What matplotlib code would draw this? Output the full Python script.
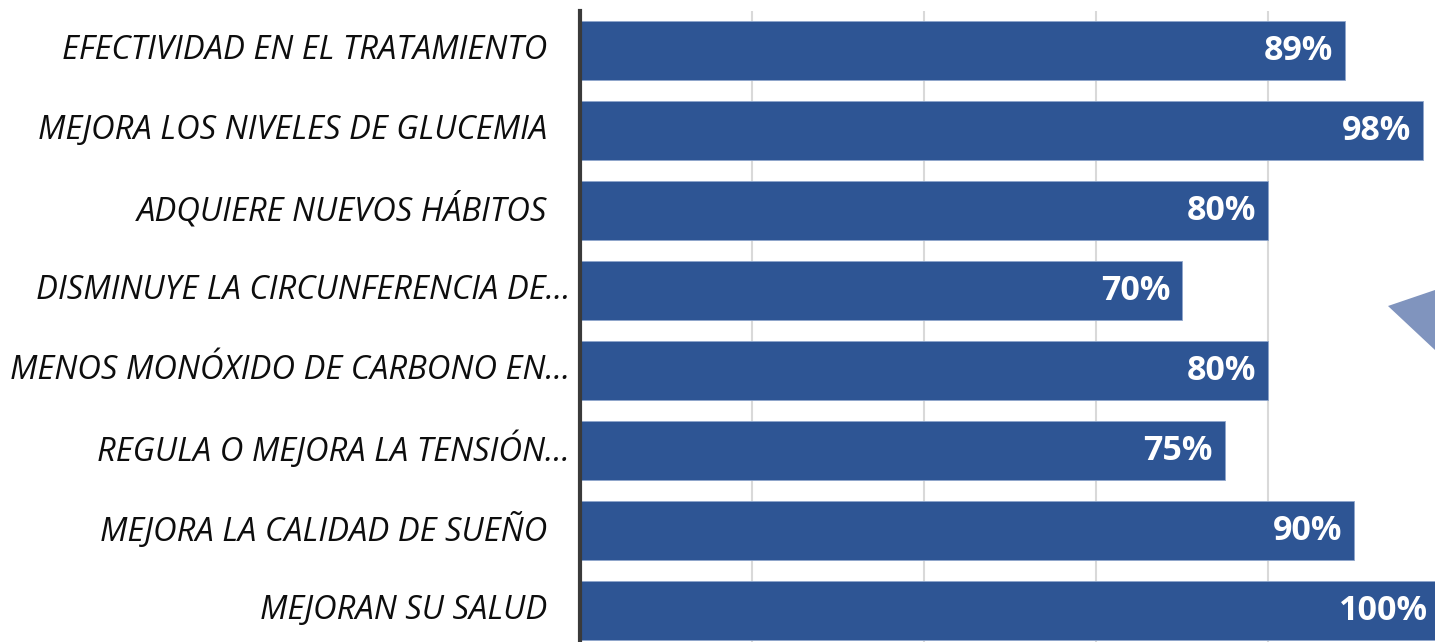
import matplotlib.pyplot as plt
from matplotlib.patches import Polygon
from matplotlib.transforms import offset_copy

# categories, top to bottom
labels = [
    'EFECTIVIDAD EN EL TRATAMIENTO',
    'MEJORA LOS NIVELES DE GLUCEMIA',
    'ADQUIERE NUEVOS HÁBITOS',
    'DISMINUYE LA CIRCUNFERENCIA DE…',
    'MENOS MONÓXIDO DE CARBONO EN…',
    'REGULA O MEJORA LA TENSIÓN…',
    'MEJORA LA CALIDAD DE SUEÑO',
    'MEJORAN SU SALUD',
]
values = [89, 98, 80, 70, 80, 75, 90, 100]

bar_color = '#2e5594'

W, H = 1435, 642
fig = plt.figure(figsize=(W / 100, H / 100), dpi=100)
# axis spans 0..100 from x=580 to x=1440 px (cropped at right edge)
ax = fig.add_axes([580 / W, (642 - 650.5) / H, 860 / W, (650.5 - 11) / H])

ypos = list(range(len(labels)))
ax.barh(ypos, values, height=0.74, color=bar_color, edgecolor='#8fa6cc',
        linewidth=0.6, zorder=3)
ax.set_xlim(0, 100)
ax.set_ylim(7.5, -0.494)

ax.set_xticks([20, 40, 60, 80])
ax.grid(axis='x', color='#d9d9d9', linewidth=1.5, zorder=0)
ax.tick_params(length=0, labelbottom=False, labelleft=False)
for side in ['top', 'right', 'bottom']:
    ax.spines[side].set_visible(False)
ax.spines['left'].set_color('#3a3a3a')
ax.spines['left'].set_linewidth(3)
ax.spines['left'].set_zorder(5)

# category labels, those without ellipsis sit further from the axis
for y, lab in zip(ypos, labels):
    dx = -10 if lab.endswith('…') else -33
    tr = offset_copy(ax.get_yaxis_transform(), fig=fig, x=dx, y=0, units='dots')
    ax.text(0, y, lab, transform=tr, ha='right', va='center',
            fontsize=23.6, style='italic', family='Open Sans', color='#0d0d0d')

# value labels inside bar ends
for y, v in zip(ypos, values):
    tr = offset_copy(ax.transData, fig=fig, x=-12, y=0, units='dots')
    ax.text(v, y, f'{v}%', transform=tr, ha='right', va='center',
            fontsize=24.5, fontweight='bold', family='Open Sans', color='white',
            zorder=6)

# small stray shape at right edge of the original picture
poly = Polygon([(1388 / W, 1 - 306 / H), (1435 / W, 1 - 290 / H), (1435 / W, 1 - 350 / H)],
               closed=True, transform=fig.transFigure, facecolor='#5570a8',
               edgecolor='none', alpha=0.75)
fig.patches.append(poly)

fig.savefig('out.png', dpi=100)
